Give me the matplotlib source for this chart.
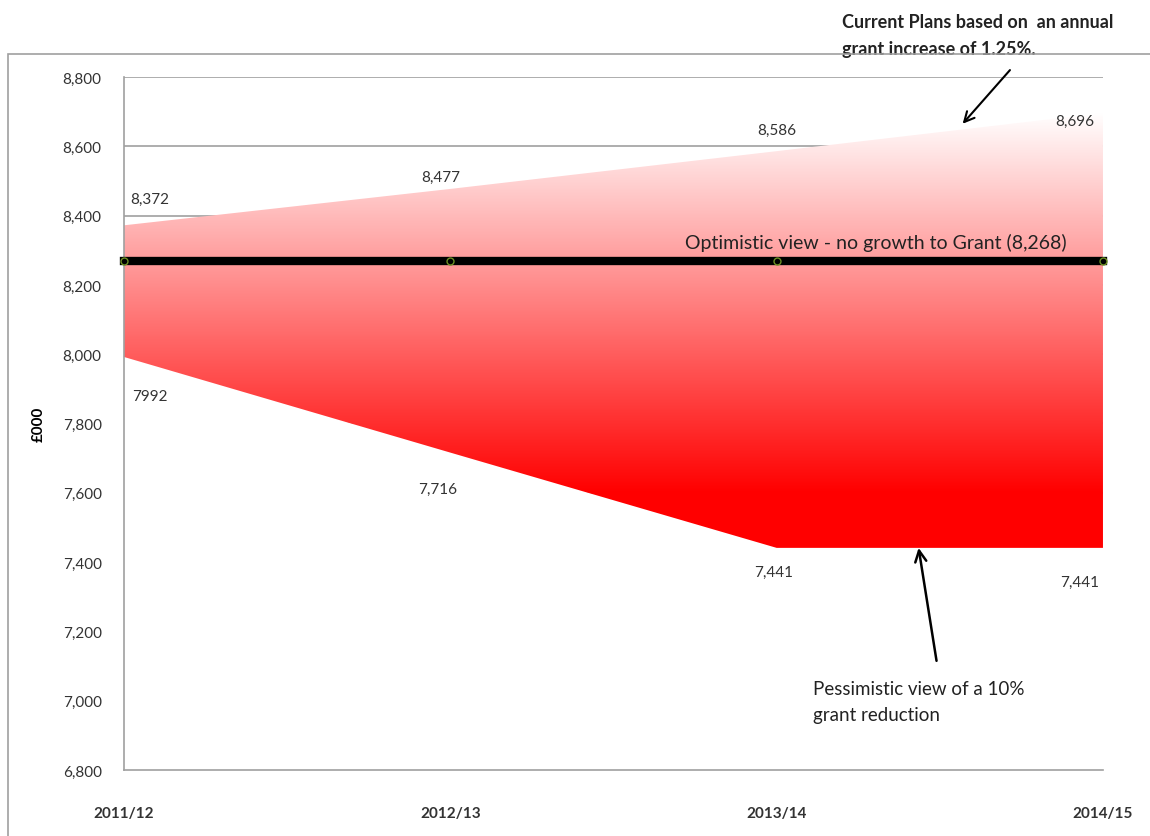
import numpy as np
import matplotlib.pyplot as plt
from matplotlib.colors import LinearSegmentedColormap
from matplotlib.patches import Rectangle

plt.rcParams['font.family'] = ['Lato', 'DejaVu Sans']

years = ['2011/12', '2012/13', '2013/14', '2014/15']
current_plans = [8372, 8477, 8586, 8696]
pessimistic = [7992, 7716, 7441, 7441]
optimistic = [8268, 8268, 8268, 8268]
upper_labels = ['8,372', '8,477', '8,586', '8,696']
lower_labels = ['7992', '7,716', '7,441', '7,441']

fig = plt.figure(figsize=(11.5, 8.37), dpi=100)
ax = fig.add_axes([0.1078, 0.0789, 0.8513, 0.8279])
x = np.arange(len(years))

# outer chart border
fig.patches.append(Rectangle((0.007, -0.01), 1.2, 0.944, transform=fig.transFigure,
                             fill=False, edgecolor='#a0a0a0', linewidth=1.2))

ax.set_xlim(0, 3)
ax.set_ylim(6800, 8800)
ax.set_yticks(np.arange(6800, 8801, 200))
ax.yaxis.set_major_formatter(plt.FuncFormatter(lambda v, p: f'{int(v):,}'))
ax.grid(axis='y', color='#a0a0a0', linewidth=1.2)
ax.set_axisbelow(True)
for s in ['top', 'right']:
    ax.spines[s].set_visible(False)
for s in ['left', 'bottom']:
    ax.spines[s].set_color('#a0a0a0')
    ax.spines[s].set_linewidth(1.2)
ax.tick_params(length=0, labelsize=11, colors='#333333', pad=16)
ax.set_xticks(x)
ax.set_xticklabels(years, fontweight='bold', fontsize=11)
ax.tick_params(axis='x', pad=26)
ax.set_ylabel('£000', fontweight='bold', fontsize=11, labelpad=12)

# white base area hides the gridlines below the pessimistic line
ax.fill_between(x, 6800, pessimistic, color='white', zorder=1.5)

# gradient fill between the two scenarios
poly = ax.fill_between(x, pessimistic, current_plans, color='none', zorder=2)
cmap = LinearSegmentedColormap.from_list('wr', [(0, '#ff0000'), (0.40, '#ff0000'), (0.95, '#ffffff'), (1, '#ffffff')])
grad = np.linspace(0, 1, 256).reshape(-1, 1)
img = ax.imshow(grad, cmap=cmap, aspect='auto', origin='lower',
                extent=[0, 3, 6800, 8800], zorder=2)
img.set_clip_path(poly.get_paths()[0], transform=ax.transData)

# optimistic line
ax.plot(x, optimistic, color='black', linewidth=6, zorder=3, clip_on=False)
ax.plot(x, optimistic, linestyle='none', marker='o', markersize=5,
        markerfacecolor='none', markeredgecolor='#6b8e23', zorder=4, clip_on=False)

# data labels
up_off = [(0.08, 76), (-0.03, 34), (0.0, 61), (-0.085, -23)]
lo_off = [(0.08, -113), (-0.04, -105), (-0.01, -70), (-0.07, -98)]
for i in range(len(years)):
    ax.text(x[i] + up_off[i][0], current_plans[i] + up_off[i][1], upper_labels[i],
            fontsize=11, color='#333333', ha='center', va='center', zorder=5)
    ax.text(x[i] + lo_off[i][0], pessimistic[i] + lo_off[i][1], lower_labels[i],
            fontsize=11, color='#333333', ha='center', va='center', zorder=5)

ax.text(1.72, 8324, 'Optimistic view - no growth to Grant (8,268)', fontsize=14,
        color='#222222', ha='left', va='center', zorder=5)

# current plans note
ax.text(2.2, 8922, 'Current Plans based on  an annual\ngrant increase of 1.25%.',
        fontsize=13, fontweight='bold', color='#222222', ha='left', va='center',
        linespacing=1.7, clip_on=False)
ax.annotate('', xy=(2.57, 8665), xytext=(2.715, 8820), annotation_clip=False,
            arrowprops=dict(arrowstyle='->', color='black', lw=1.5, shrinkA=0, shrinkB=0,
                            mutation_scale=18))

# pessimistic note
ax.text(2.11, 6998, 'Pessimistic view of a 10%\ngrant reduction', fontsize=13.5,
        color='#222222', ha='left', va='center', linespacing=1.6)
ax.annotate('', xy=(2.435, 7441), xytext=(2.49, 7115), annotation_clip=False,
            arrowprops=dict(arrowstyle='->', color='black', lw=1.8, shrinkA=0, shrinkB=0,
                            mutation_scale=20))

fig.savefig('out.png', dpi=100)
